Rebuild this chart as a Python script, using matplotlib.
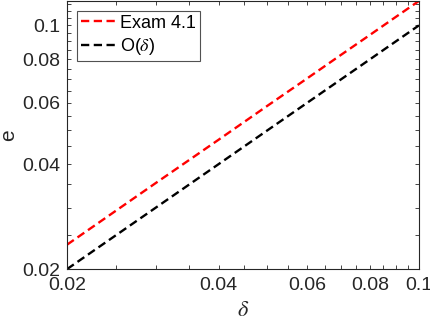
import matplotlib
matplotlib.use("Agg")
import matplotlib.pyplot as plt
from matplotlib.ticker import FixedLocator, NullFormatter

# data
delta = [0.02, 0.03, 0.04, 0.05, 0.06, 0.07, 0.08, 0.09, 0.10]
err_exam = [0.0235, 0.0353, 0.0470, 0.0588, 0.0705, 0.0823, 0.0940, 0.1058, 0.1175]
err_ref = [0.02, 0.03, 0.04, 0.05, 0.06, 0.07, 0.08, 0.09, 0.10]
major_ticks = [0.02, 0.04, 0.06, 0.08, 0.1]
major_labels = ["0.02", "0.04", "0.06", "0.08", "0.1"]
minor_ticks = [0.025, 0.03, 0.035, 0.045, 0.05, 0.055, 0.065, 0.07, 0.075,
               0.085, 0.09, 0.095, 0.105, 0.11, 0.115]

plt.rcParams['font.family'] = ['Liberation Sans', 'DejaVu Sans']
plt.rcParams['mathtext.fontset'] = 'stix'

fig = plt.figure(figsize=(4.31, 3.27), dpi=100)
ax = fig.add_axes([0.1555, 0.177, 0.8165, 0.820])

ls = (0, (3.5, 1.9))
ax.plot(delta, err_exam, color='#ff0000', lw=1.7, linestyle=ls, label='Exam 4.1')
ax.plot(delta, err_ref, color='black', lw=1.7, linestyle=ls, label=r'O($\delta$)')

ax.set_xscale('log')
ax.set_yscale('log')
ax.set_xlim(0.02, 0.1)
ax.set_ylim(0.02, max(err_exam))

for axis in (ax.xaxis, ax.yaxis):
    axis.set_major_locator(FixedLocator(major_ticks))
    axis.set_minor_locator(FixedLocator(minor_ticks))
    axis.set_minor_formatter(NullFormatter())
ax.set_xticklabels(major_labels)
ax.set_yticklabels(major_labels)

ax.tick_params(which='both', direction='in', top=True, right=True,
               length=3, width=0.6, colors='#262626', labelsize=14)
ax.tick_params(axis='x', pad=6)
ax.tick_params(axis='y', pad=5)
for s in ax.spines.values():
    s.set_color('#262626')
    s.set_linewidth(0.8)

ax.set_xlabel(r'$\delta$', fontsize=16, color='#262626', labelpad=4)
ax.set_ylabel('e', fontsize=15, color='#262626', labelpad=3)

leg = ax.legend(loc='upper left', fontsize=13, frameon=True, fancybox=False,
                edgecolor='#262626', borderpad=0.2, labelspacing=0.25,
                handlelength=2.0, handletextpad=0.2, borderaxespad=0.55)
leg.get_frame().set_linewidth(0.8)

fig.savefig('out.png', dpi=100)
